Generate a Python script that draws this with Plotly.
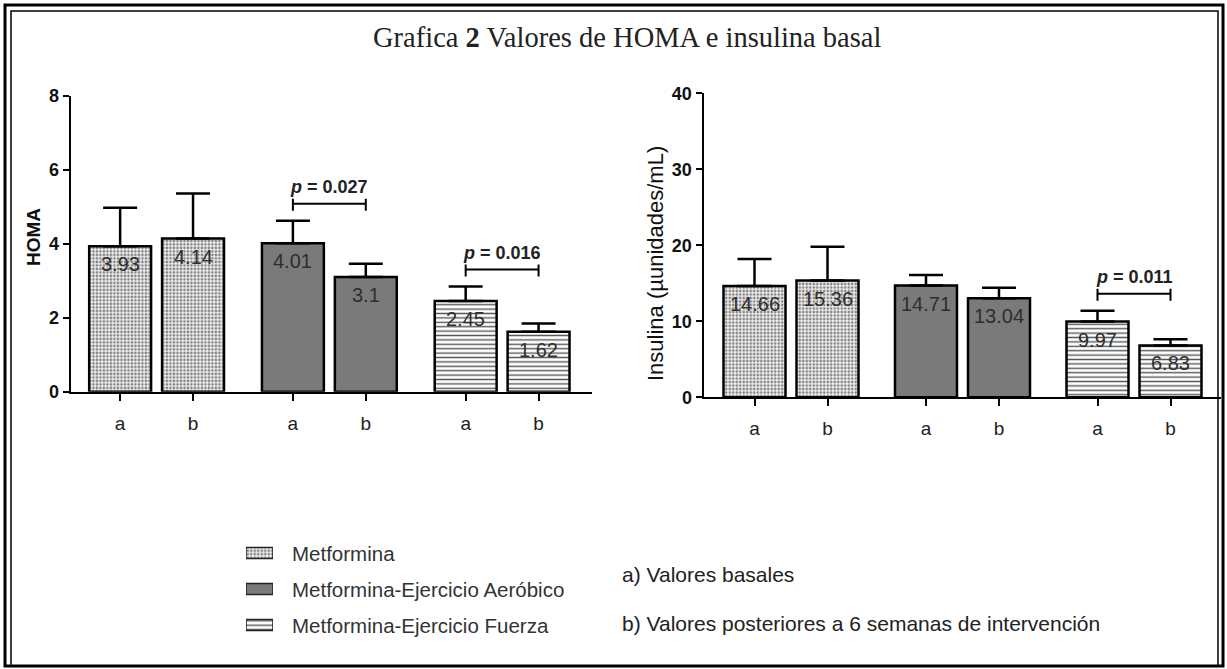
import plotly.graph_objects as go

# ---------------- data ----------------
groups = ["Metformina", "Metformina-Ejercicio Aeróbico", "Metformina-Ejercicio Fuerza"]
time_labels = ["a", "b"]

homa_values = [3.93, 4.14, 4.01, 3.10, 2.45, 1.62]
homa_errors = [1.04, 1.22, 0.61, 0.36, 0.39, 0.22]

insulin_values = [14.66, 15.36, 14.71, 13.04, 9.97, 6.83]
insulin_errors = [3.54, 4.46, 1.38, 1.38, 1.43, 0.80]

homa_tests = [(2, 3, "0.027"), (4, 5, "0.016")]
insulin_tests = [(4, 5, "0.011")]

homa_ticks = [0, 2, 4, 6, 8]
insulin_ticks = [0, 10, 20, 30, 40]

title_text = "Grafica <b>2</b> Valores de HOMA e insulina basal"
homa_title = "<b>HOMA</b>"
insulin_title = "Insulina (µunidades/mL)"
notes = ["a) Valores basales", "b) Valores posteriores a 6 semanas de intervención"]

# ---------------- styles ----------------
W, H = 1227, 669
FONT = "Liberation Sans, Arial, sans-serif"
styles = [
    dict(color="#efefef", pattern=dict(shape=".", fgcolor="#808080", bgcolor="#eeeeee",
                                      size=3.5, solidity=0.42, fillmode="replace")),
    dict(color="#7a7a7a", pattern=None),
    dict(color="#ffffff", pattern=dict(shape="-", fgcolor="#5a5a5a", bgcolor="#ffffff",
                                      size=4.4, solidity=0.33, fillmode="replace")),
]


def px_x(p):
    return p / W


def px_y(p):
    return 1 - p / H


fig = go.Figure()

panels = [
    dict(vals=homa_values, errs=homa_errors, tests=homa_tests, xa="x", ya="y",
         spacing=173, scale=37.0),
    dict(vals=insulin_values, errs=insulin_errors, tests=insulin_tests, xa="x2", ya="y2",
         spacing=171.5, scale=7.6),
]
HALF = 36.5
BAR_W = 62

annotations = []
shapes = []

for pan in panels:
    positions = []
    for g in range(len(groups)):
        xs = [g * pan["spacing"] - HALF, g * pan["spacing"] + HALF]
        positions += xs
        vals = pan["vals"][2 * g:2 * g + 2]
        errs = pan["errs"][2 * g:2 * g + 2]
        st = styles[g]
        marker = dict(color=st["color"], line=dict(color="black", width=2.5))
        if st["pattern"]:
            marker["pattern"] = st["pattern"]
        fig.add_trace(go.Bar(
            x=xs, y=vals, width=BAR_W, marker=marker, xaxis=pan["xa"], yaxis=pan["ya"],
            showlegend=False, hoverinfo="skip",
            error_y=dict(type="data", symmetric=False, array=errs, arrayminus=[0, 0],
                         thickness=2.5, width=17, color="black"),
        ))
        for x, v in zip(xs, vals):
            annotations.append(dict(
                x=x, y=v, xref=pan["xa"], yref=pan["ya"], text=f"{v:g}", showarrow=False,
                yshift=-18, font=dict(family=FONT, size=20, color="#2e2e2e"),
                xanchor="center", yanchor="middle"))
    pan["positions"] = positions
    # significance brackets
    for i, j, p in pan["tests"]:
        top = max(v + e for v, e in zip(pan["vals"][i:j + 1], pan["errs"][i:j + 1]))
        yb = top + 17 / pan["scale"]
        x0, x1 = positions[i], positions[j]
        line = dict(color="black", width=2)
        shapes.append(dict(type="line", xref=pan["xa"], yref=pan["ya"],
                           x0=x0, x1=x1, y0=yb, y1=yb, line=line))
        for xx in (x0, x1):
            shapes.append(dict(type="line", xref=pan["xa"], yref=pan["ya"], x0=xx, x1=xx,
                               y0=yb - 7 / pan["scale"], y1=yb + 5 / pan["scale"], line=line))
        annotations.append(dict(
            x=(x0 + x1) / 2, y=yb, xref=pan["xa"], yref=pan["ya"], yshift=17,
            text=f"<b><i>p</i> = {p}</b>", showarrow=False,
            font=dict(family=FONT, size=18, color="#222"), xanchor="center", yanchor="middle"))

# legend swatches (small hidden axis)
for g in range(len(groups)):
    st = styles[g]
    marker = dict(color=st["color"], line=dict(color="#222", width=1.5))
    if st["pattern"]:
        marker["pattern"] = dict(st["pattern"])
    fig.add_trace(go.Bar(x=[1], y=[g], orientation="h", width=0.3, marker=marker,
                         xaxis="x3", yaxis="y3", showlegend=False, hoverinfo="skip"))
    annotations.append(dict(x=px_x(290), y=px_y(553 + 36 * g), xref="paper", yref="paper",
                            text=groups[g], showarrow=False, xanchor="left", yanchor="middle",
                            font=dict(family=FONT, size=20.5, color="#333")))

for k, t in enumerate(notes):
    annotations.append(dict(x=px_x(620), y=px_y(574 + 49 * k), xref="paper", yref="paper",
                            text=t, showarrow=False, xanchor="left", yanchor="middle",
                            font=dict(family=FONT, size=21, color="#222")))

annotations.append(dict(x=px_x(627), y=px_y(37), xref="paper", yref="paper", text=title_text,
                        showarrow=False, xanchor="center", yanchor="middle",
                        font=dict(family="Liberation Serif, Times New Roman, serif", size=28.5,
                                  color="#222")))
annotations.append(dict(x=px_x(33), y=px_y(237), xref="paper", yref="paper", text=homa_title,
                        showarrow=False, textangle=-90, xanchor="center", yanchor="middle",
                        font=dict(family=FONT, size=19, color="#111")))
annotations.append(dict(x=px_x(655), y=px_y(264), xref="paper", yref="paper", text=insulin_title,
                        showarrow=False, textangle=-90, xanchor="center", yanchor="middle",
                        font=dict(family=FONT, size=22, color="#111")))

# frame
shapes.append(dict(type="rect", xref="paper", yref="paper", x0=px_x(5), x1=px_x(1223),
                   y0=px_y(666), y1=px_y(5), line=dict(color="black", width=3)))
shapes.append(dict(type="rect", xref="paper", yref="paper", x0=px_x(11), x1=px_x(1218),
                   y0=px_y(666), y1=px_y(11), line=dict(color="black", width=1.5)))

xcommon = dict(showgrid=False, zeroline=False, showline=True, linecolor="black", linewidth=2,
               ticks="outside", ticklen=7, tickwidth=2, tickcolor="black",
               tickfont=dict(family=FONT, size=19, color="#222"), ticklabelstandoff=6,
               fixedrange=True, automargin=False)
ycommon = dict(showgrid=False, zeroline=False, showline=True, linecolor="black", linewidth=2,
               ticks="outside", ticklen=6, tickwidth=2, tickcolor="black",
               tickfont=dict(family=FONT, size=18, color="#111", weight="bold"),
               fixedrange=True, automargin=False)

fig.update_layout(
    template="none", autosize=False,
    width=W, height=H, margin=dict(l=0, r=0, t=0, b=0, pad=0, autoexpand=False),
    paper_bgcolor="white", plot_bgcolor="white", barmode="overlay",
    showlegend=False,
    xaxis=dict(xcommon, domain=[px_x(70.7), px_x(592)], range=[-86, 436],
               tickvals=panels[0]["positions"], ticktext=time_labels * 3, anchor="y"),
    yaxis=dict(ycommon, domain=[px_y(391.7), px_y(95.7)], range=[0, 8],
               tickvals=homa_ticks, anchor="x"),
    xaxis2=dict(xcommon, domain=[px_x(703.5), px_x(1221)], range=[-87.5, 430],
                tickvals=panels[1]["positions"], ticktext=time_labels * 3, anchor="y2"),
    yaxis2=dict(ycommon, domain=[px_y(397.3), px_y(93.3)], range=[0, 40],
                tickvals=insulin_ticks, anchor="x2"),
    xaxis3=dict(domain=[px_x(246), px_x(273)], range=[0, 1], visible=False, fixedrange=True,
                anchor="y3", automargin=False),
    yaxis3=dict(domain=[px_y(643), px_y(535)], range=[2.5, -0.5], visible=False,
                fixedrange=True, anchor="x3", automargin=False),
    annotations=annotations, shapes=shapes,
)

fig.write_html(
    "out.html",
    config={"displayModeBar": False},
    post_script="document.body.style.margin='0';document.body.style.padding='0';"
                "document.body.style.overflow='hidden';",
)
